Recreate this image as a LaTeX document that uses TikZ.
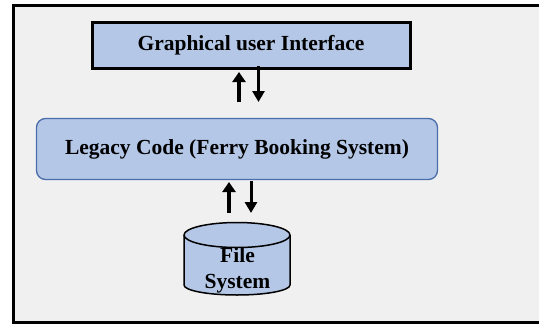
\documentclass[tikz,border=0pt]{standalone}
\usepackage{fontspec}
\setmainfont{Liberation Serif}
\usetikzlibrary{arrows.meta}
\definecolor{boxfill}{HTML}{B4C7E7}
\definecolor{bgray}{HTML}{F0F0F0}
\definecolor{legborder}{HTML}{4A6EA9}
\tikzset{
  lbl/.style={font=\bfseries\fontsize{21.5}{21.5}\selectfont, text=black},
  upflow/.style={line width=4pt, -{Triangle[length=10pt,width=13pt]}},
  downflow/.style={line width=3pt, -{Triangle[length=11pt,width=12pt]}},
}
\begin{document}
\begin{tikzpicture}[x=1pt,y=-1pt]
\useasboundingbox (0,0) rectangle (539,325);
\begin{scope}
\clip (0,0) rectangle (539,325);
\draw[line width=3pt, fill=bgray] (13.5,5) rectangle (560,322);
\end{scope}
% GUI box
\node[draw=black, line width=3pt, fill=boxfill, minimum width=318pt, minimum height=46pt, lbl, inner sep=0pt] (gui) at (251,45) {Graphical user Interface};
% Legacy box
\node[draw=legborder, line width=1.3pt, fill=boxfill, rounded corners=9pt, minimum width=401pt, minimum height=61pt, lbl, inner sep=0pt] (leg) at (237,149) {Legacy Code (Ferry Booking System)};
% File system cylinder
\draw[line width=1.5pt, fill=boxfill] (184,235) -- (184,285) arc[start angle=180, end angle=360, x radius=53, y radius=-10] -- (290,235) arc[start angle=0, end angle=180, x radius=53, y radius=-12.5];
\draw[line width=1.5pt] (184,235) arc[start angle=180, end angle=360, x radius=53, y radius=-12.5];
\node[lbl, align=center, font=\bfseries\fontsize{21.5}{26}\selectfont, inner sep=0pt] (fs) at (237.5,270) {File\\System};
% arrows GUI <-> Legacy
\coordinate (u1s) at (239,102);
\coordinate (u1e) at (239,72);
\draw[upflow] (u1s) -- (u1e);
\coordinate (d1s) at (258.5,66);
\coordinate (d1e) at (258.5,102);
\draw[downflow] (d1s) -- (d1e);
% arrows Legacy <-> File
\coordinate (u2s) at (229,213);
\coordinate (u2e) at (229,182);
\draw[upflow] (u2s) -- (u2e);
\coordinate (d2s) at (251,181);
\coordinate (d2e) at (251,213);
\draw[downflow] (d2s) -- (d2e);
\end{tikzpicture}
\end{document}
